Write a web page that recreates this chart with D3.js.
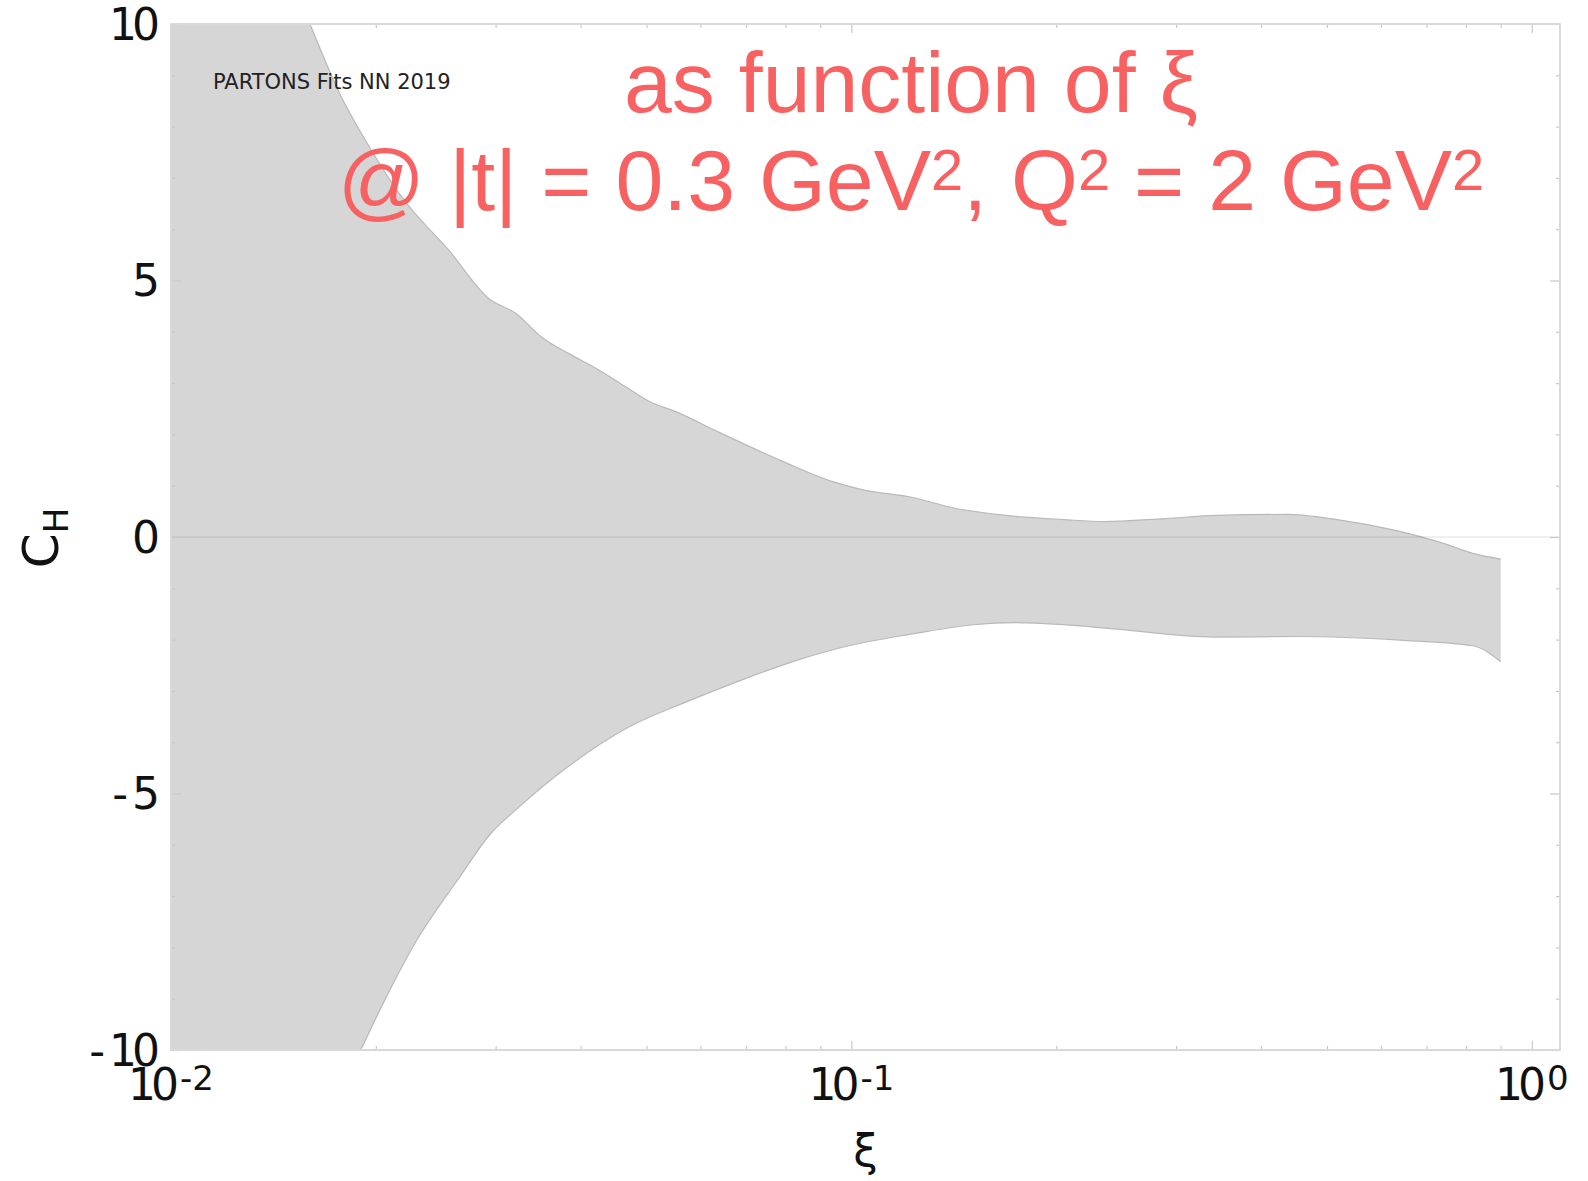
<!DOCTYPE html>
<html>
<head>
<meta charset="utf-8">
<script src="https://cdn.jsdelivr.net/npm/d3@7"></script>
<style>
    body { margin: 0; background: #fff; }
    .tick-label { font-family: "DejaVu Sans", sans-serif; font-size: 44px; fill: #111; letter-spacing: -5px; }
    .title { font-family: "Liberation Sans", Arial, sans-serif; font-size: 86px; fill: #f86161; }
</style>
</head>
<body>
<script>
// band: xi -> C_H upper / lower edge
const xiUpper = [0.0100, 0.0130, 0.0160, 0.0176, 0.0197, 0.0220, 0.0256, 0.0293, 0.0321, 0.0351,
    0.0385, 0.0421, 0.0467, 0.0505, 0.0553, 0.0637, 0.0794, 0.0939, 0.104, 0.123,
    0.142, 0.166, 0.205, 0.235, 0.289, 0.343, 0.436, 0.517, 0.635, 0.740, 0.819, 0.900];
const upperVals = [17.0, 12.8, 10.0, 8.71, 7.54, 6.57, 5.59, 4.65, 4.36, 3.89,
    3.57, 3.29, 2.92, 2.64, 2.44, 2.05, 1.47, 1.08, 0.92, 0.77,
    0.56, 0.43, 0.34, 0.30, 0.36, 0.42, 0.44, 0.34, 0.12, -0.12, -0.32, -0.43];

const xiLower = [0.0100, 0.0150, 0.0190, 0.0207, 0.0229, 0.0263, 0.0296, 0.0323, 0.0383, 0.0470,
    0.0578, 0.0686, 0.0842, 0.0999, 0.123, 0.151, 0.173, 0.205, 0.243, 0.343,
    0.456, 0.640, 0.819, 0.900];
const lowerVals = [-18.0, -12.8, -10.0, -8.98, -7.89, -6.71, -5.76, -5.29, -4.48, -3.71,
    -3.19, -2.80, -2.38, -2.11, -1.89, -1.71, -1.67, -1.71, -1.79, -1.95,
    -1.94, -2.01, -2.12, -2.43];

const yMajor = [-10, -5, 0, 5, 10];
const yMajorLabels = ["- 10", "- 5", "0", "5", "10"];
const yMinor = [-9, -8, -7, -6, -4, -3, -2, -1, 1, 2, 3, 4, 6, 7, 8, 9];
const xMajor = [0.01, 0.1, 1];
const xMajorExp = ["-2", "-1", "0"];
const xMinor = [0.02, 0.03, 0.04, 0.05, 0.06, 0.07, 0.08, 0.09, 0.2, 0.3, 0.4, 0.5, 0.6, 0.7, 0.8, 0.9];

const W = 1588, H = 1181;
const plotL = 171, plotR = 1560, plotT = 24, plotB = 1050;

const svg = d3.select("body").append("svg")
    .attr("width", W)
    .attr("height", H);

const x = d3.scaleLog().domain([0.01, 1.1]).range([plotL, plotR]);
const y = d3.scaleLinear().domain([-10, 10]).range([plotB, plotT]);

svg.append("clipPath").attr("id", "plot-clip")
    .append("rect")
    .attr("x", plotL).attr("y", plotT)
    .attr("width", plotR - plotL).attr("height", plotB - plotT);

const upper = xiUpper.map((d, i) => [d, upperVals[i]]);
const lower = xiLower.map((d, i) => [d, lowerVals[i]]);

const line = d3.line()
    .x(d => x(d[0]))
    .y(d => y(d[1]))
    .curve(d3.curveMonotoneX);

const plot = svg.append("g").attr("clip-path", "url(#plot-clip)");

// shaded band: along the upper edge, down at xi = 0.9, back along the lower edge
plot.append("path")
    .attr("d", line(upper) + line(lower.slice().reverse()).replace(/^M/, "L") + "Z")
    .attr("fill", "#d6d6d6");

// thin darker edges
plot.selectAll(".edge")
    .data([upper, lower])
    .enter().append("path")
    .attr("class", "edge")
    .attr("d", line)
    .attr("fill", "none")
    .attr("stroke", "#b9b9b9")
    .attr("stroke-width", 1.2);

// zero line
plot.append("line")
    .attr("x1", plotL).attr("x2", plotR)
    .attr("y1", y(0)).attr("y2", y(0))
    .attr("stroke", "rgba(0,0,0,0.08)")
    .attr("stroke-width", 1.5);

// ticks pointing inwards on all four sides
function tickGroup(axis, tx, ty) {
    const g = svg.append("g")
        .attr("transform", "translate(" + tx + "," + ty + ")")
        .call(axis);
    g.select(".domain").remove();
    g.selectAll("line").attr("stroke", "#c8c8c8").attr("stroke-width", 1.2);
}
tickGroup(d3.axisLeft(y).tickValues(yMinor).tickSize(-4).tickFormat(""), plotL, 0);
tickGroup(d3.axisLeft(y).tickValues(yMajor).tickSize(-10).tickFormat(""), plotL, 0);
tickGroup(d3.axisRight(y).tickValues(yMinor).tickSize(-4).tickFormat(""), plotR, 0);
tickGroup(d3.axisRight(y).tickValues(yMajor).tickSize(-10).tickFormat(""), plotR, 0);
tickGroup(d3.axisBottom(x).tickValues(xMinor).tickSize(-4).tickFormat(""), 0, plotB);
tickGroup(d3.axisBottom(x).tickValues(xMajor).tickSize(-9).tickFormat(""), 0, plotB);
tickGroup(d3.axisTop(x).tickValues(xMinor).tickSize(-4).tickFormat(""), 0, plotT);
tickGroup(d3.axisTop(x).tickValues(xMajor).tickSize(-9).tickFormat(""), 0, plotT);

// frame
svg.append("rect")
    .attr("x", plotL).attr("y", plotT)
    .attr("width", plotR - plotL).attr("height", plotB - plotT)
    .attr("fill", "none")
    .attr("stroke", "#d9d9d9")
    .attr("stroke-width", 2);

// y tick labels
svg.selectAll(".ylab")
    .data(yMajor)
    .enter().append("text")
    .attr("class", "tick-label")
    .attr("x", 155)
    .attr("y", d => y(d))
    .attr("dy", "0.36em")
    .attr("text-anchor", "end")
    .text((d, i) => yMajorLabels[i]);

// x tick labels as 10^n
const xlab = svg.selectAll(".xlab")
    .data(xMajor)
    .enter().append("text")
    .attr("class", "tick-label")
    .attr("x", d => x(d))
    .attr("y", 1100)
    .attr("text-anchor", "middle");
xlab.append("tspan").text("10");
xlab.append("tspan")
    .attr("dy", -10)
    .attr("dx", 6)
    .style("font-size", "34px")
    .style("letter-spacing", "0px")
    .text((d, i) => xMajorExp[i]);

// axis titles
svg.append("text")
    .attr("x", (plotL + plotR) / 2)
    .attr("y", 1166)
    .attr("text-anchor", "middle")
    .style("font-family", "DejaVu Sans, sans-serif")
    .style("font-size", "44px")
    .style("fill", "#111")
    .text("ξ");

const ylab = svg.append("text")
    .attr("transform", "translate(58," + 538 + ") rotate(-90)")
    .attr("text-anchor", "middle")
    .style("font-family", "DejaVu Sans, sans-serif")
    .style("font-size", "50px")
    .style("fill", "#111");
ylab.append("tspan").text("C");
ylab.append("tspan").attr("dy", 10).style("font-size", "34px").text("H");

svg.append("text")
    .attr("x", 213)
    .attr("y", 89)
    .style("font-family", "DejaVu Sans, sans-serif")
    .style("font-size", "21px")
    .style("fill", "#222")
    .text("PARTONS Fits NN 2019");

// red annotation
const cx = 911;
svg.append("text")
    .attr("class", "title")
    .attr("x", cx).attr("y", 112)
    .attr("text-anchor", "middle")
    .text("as function of ξ");

const t2 = svg.append("text")
    .attr("class", "title")
    .attr("x", cx).attr("y", 210)
    .attr("text-anchor", "middle");
const parts = [["@ |t| = 0.3 GeV", false], ["2", true], [", Q", false], ["2", true], [" = 2 GeV", false], ["2", true]];
parts.forEach((p, i) => {
    const s = t2.append("tspan").text(p[0]);
    if (p[1]) {
        s.attr("dy", -20).style("font-size", "58px");
    } else if (i > 0) {
        s.attr("dy", 20);
    }
});
</script>
</body>
</html>
